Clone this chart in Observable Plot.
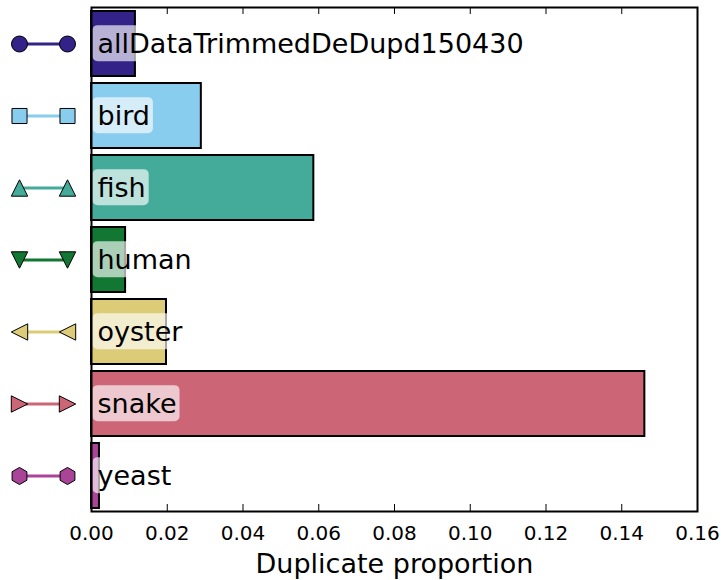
<!DOCTYPE html>
<html>
<head>
<meta charset="utf-8">
<script src="https://cdn.jsdelivr.net/npm/d3@7"></script>
<script src="https://cdn.jsdelivr.net/npm/@observablehq/plot@0.6"></script>
<style>
  html, body { margin: 0; padding: 0; background: #fff; }
  svg { font-family: "DejaVu Sans", sans-serif; }
</style>
</head>
<body>
<div id="chart"></div>
<script>
// ---- data ----
const categories = ["allDataTrimmedDeDupd150430", "bird", "fish", "human", "oyster", "snake", "yeast"];
const proportions = [0.0116, 0.029, 0.0587, 0.0090, 0.0198, 0.1461, 0.0021];
const xTicks = [0, 0.02, 0.04, 0.06, 0.08, 0.10, 0.12, 0.14, 0.16];
const xLabel = "Duplicate proportion";

// ---- style ----
const palette = ["#332288", "#88CCEE", "#44AA99", "#117733", "#DDCC77", "#CC6677", "#AA4499"];
// triangle centred on its bounding box (like matplotlib's markers)
const triCentered = {draw(ctx, size) {
  const h = Math.sqrt(size / Math.PI);
  ctx.moveTo(0, -h); ctx.lineTo(h, h); ctx.lineTo(-h, h); ctx.closePath();
}};
const markerStyle = {
  allDataTrimmedDeDupd150430: {symbol: "circle", rotate: 0, r: 8},
  bird: {symbol: "square", rotate: 0, r: 8.5},
  fish: {symbol: triCentered, rotate: 0, r: 8.2},
  human: {symbol: triCentered, rotate: 180, r: 8.2},
  oyster: {symbol: triCentered, rotate: -90, r: 8.2},
  snake: {symbol: triCentered, rotate: 90, r: 8.2},
  yeast: {symbol: "hexagon", rotate: 0, r: 7.4}
};
const lineSymbol = {draw(ctx) { ctx.rect(-24, -1.6, 48, 3.2); }};

const data = categories.map((name, i) => ({name, value: proportions[i]}));

const plot = Plot.plot({
  width: 726,
  height: 580,
  marginLeft: 91,
  marginRight: 29,
  marginTop: 7,
  marginBottom: 69,
  style: {fontFamily: "DejaVu Sans, sans-serif", background: "#fff"},
  x: {domain: [0, 0.16]},
  y: {domain: categories, paddingInner: 0.1, paddingOuter: 0.05, axis: null},
  color: {domain: categories, range: palette},
  r: {type: "identity"},
  marks: [
    Plot.barX(data, {x: "value", y: "name", fill: "name", stroke: "black", strokeWidth: 2}),
    Plot.text(data, {y: "name", frameAnchor: "left", text: "name", dx: 6, textAnchor: "start",
      fontSize: 27, fill: "black", className: "barlabel"}),
    // legend handles left of the frame
    Plot.dot(data, {y: "name", frameAnchor: "left", dx: -48, symbol: () => lineSymbol, r: 8,
      fill: "name", stroke: "none"}),
    Plot.dot(data, {y: "name", frameAnchor: "left", dx: -72,
      symbol: d => markerStyle[d.name].symbol, rotate: d => markerStyle[d.name].rotate,
      r: d => markerStyle[d.name].r, fill: "name", stroke: "black", strokeWidth: 1}),
    Plot.dot(data, {y: "name", frameAnchor: "left", dx: -24,
      symbol: d => markerStyle[d.name].symbol, rotate: d => markerStyle[d.name].rotate,
      r: d => markerStyle[d.name].r, fill: "name", stroke: "black", strokeWidth: 1}),
    Plot.axisX({ticks: xTicks, tickFormat: d3.format(".2f"), tickSize: 0, tickPadding: 14,
      fontSize: 20, label: xLabel, labelAnchor: "center", labelArrow: "none", labelOffset: 61}),
    Plot.axisX({anchor: "top", ticks: xTicks, tickSize: 0, tickFormat: () => "", label: null}),
    Plot.tickX(xTicks, {x: d => d, stroke: "black", strokeWidth: 1, insetTop: 497}),
    Plot.tickX(xTicks, {x: d => d, stroke: "black", strokeWidth: 1, insetBottom: 497}),
    Plot.frame({stroke: "black", strokeWidth: 2})
  ]
});

document.getElementById("chart").appendChild(plot);

// font size for axis label
d3.select(plot).selectAll("[aria-label='x-axis label'] text, [aria-label='x-axis label']").attr("font-size", 27);

// rounded translucent boxes behind bar labels
d3.select(plot).selectAll(".barlabel text").each(function() {
  const b = this.getBBox();
  const cy = b.y + b.height / 2;
  const rect = document.createElementNS("http://www.w3.org/2000/svg", "rect");
  rect.setAttribute("x", b.x - 5);
  rect.setAttribute("y", cy - 18);
  rect.setAttribute("width", b.width + 8);
  rect.setAttribute("height", 36);
  rect.setAttribute("rx", 5);
  rect.setAttribute("fill", "white");
  rect.setAttribute("fill-opacity", 0.65);
  const t = this.getAttribute("transform");
  if (t) rect.setAttribute("transform", t);
  this.parentNode.insertBefore(rect, this);
});
</script>
</body>
</html>
